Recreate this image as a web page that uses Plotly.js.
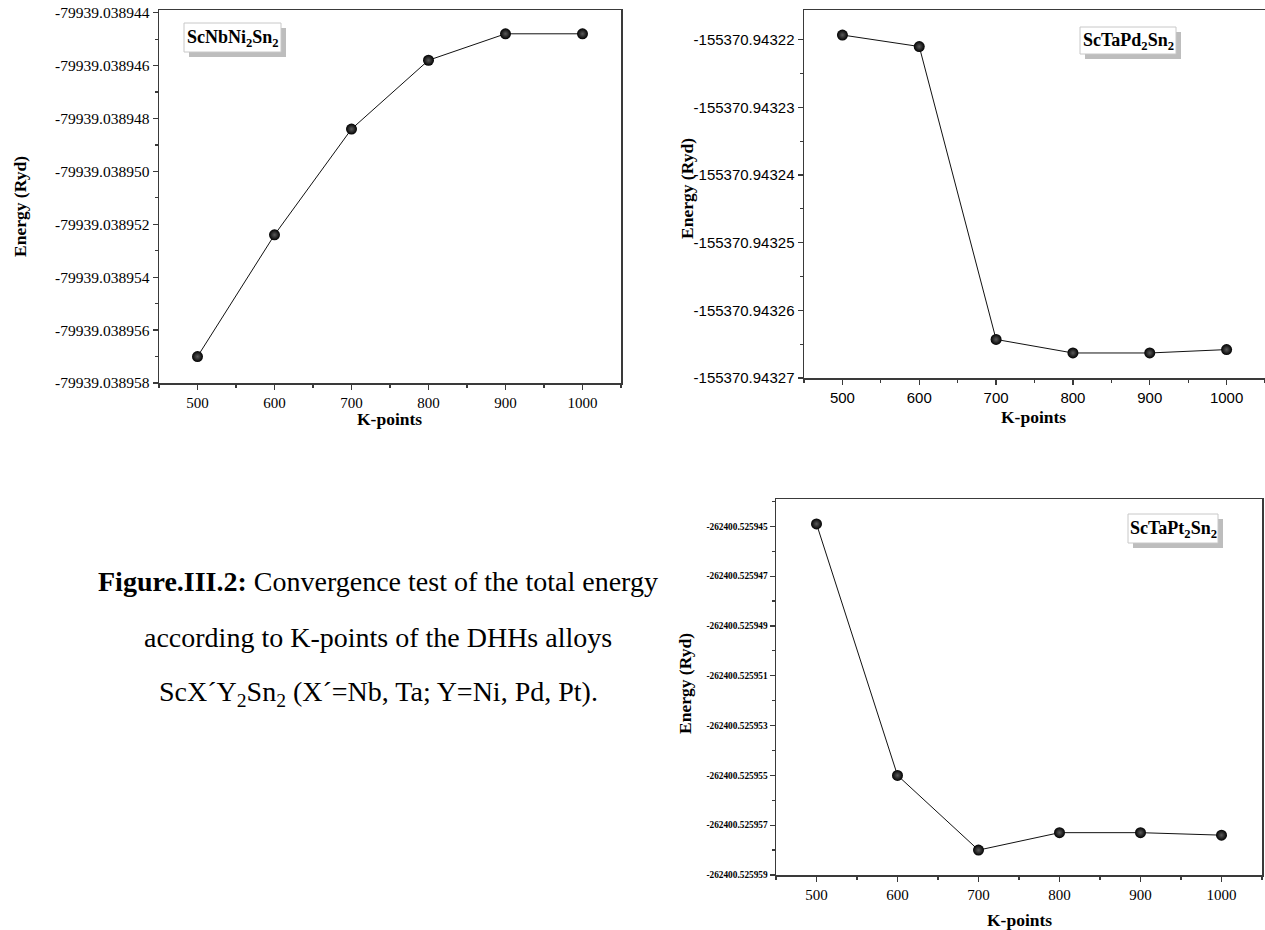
<!DOCTYPE html>
<html>
<head>
<meta charset="utf-8">
<script src="https://cdn.plot.ly/plotly-3.0.1.min.js"></script>
<style>html,body{margin:0;padding:0;background:#fff;}#chart{width:1265px;height:930px;}</style>
</head>
<body>
<div id="chart"></div>
<script>
// ---- data ----
const kPoints = [500, 600, 700, 800, 900, 1000];
const energyScNbNi2Sn2 = [-79939.0389570, -79939.0389524, -79939.0389484, -79939.0389458, -79939.0389448, -79939.0389448];
const energyScTaPd2Sn2 = [-155370.9432193, -155370.9432210, -155370.9432643, -155370.9432663, -155370.9432663, -155370.9432658];
const energyScTaPt2Sn2 = [-262400.5259449, -262400.5259550, -262400.5259580, -262400.5259573, -262400.5259573, -262400.5259574];
const xTicks = [500, 600, 700, 800, 900, 1000];
const yTicks1 = [-79939.038958, -79939.038956, -79939.038954, -79939.038952, -79939.038950, -79939.038948, -79939.038946, -79939.038944];
const yTicks2 = [-155370.94327, -155370.94326, -155370.94325, -155370.94324, -155370.94323, -155370.94322];
const yTicks3 = [-262400.525959, -262400.525957, -262400.525955, -262400.525953, -262400.525951, -262400.525949, -262400.525947, -262400.525945];
const labels = ['ScNbNi<sub>2</sub>Sn<sub>2</sub>', 'ScTaPd<sub>2</sub>Sn<sub>2</sub>', 'ScTaPt<sub>2</sub>Sn<sub>2</sub>'];
const xTitle = 'K-points';
const yTitle = 'Energy (Ryd)';
const captionLines = [
  '<b>Figure.III.2:</b> Convergence test of the total energy',
  'according to K-points of the DHHs alloys',
  'ScX´Y<sub>2</sub>Sn<sub>2</sub> (X´=Nb, Ta; Y=Ni, Pd, Pt).'
];

// ---- layout helpers ----
const W = 1265, H = 930;
const X = p => p / W;
const Y = p => 1 - p / H;
const SERIF = 'Liberation Serif, Times New Roman, serif';
const SANS = 'Liberation Sans, Arial, sans-serif';
const AX = '#3a3a3a';

function marker() {
  return {size: 11, color: '#000', gradient: {type: 'radial', color: '#5a5a5a'}, line: {width: 0}};
}
function trace(y, xa, ya) {
  return {x: kPoints, y: y, xaxis: xa, yaxis: ya, type: 'scatter', mode: 'lines+markers',
          line: {color: '#111', width: 1}, marker: marker(), showlegend: false, hoverinfo: 'x+y'};
}
const data = [
  trace(energyScNbNi2Sn2, 'x', 'y'),
  trace(energyScTaPd2Sn2, 'x2', 'y2'),
  trace(energyScTaPt2Sn2, 'x3', 'y3')
];

function xaxis(dom, anchor, font) {
  return {domain: dom, anchor: anchor, range: [450, 1050], tickmode: 'array', tickvals: xTicks,
          ticktext: xTicks.map(String), ticks: 'outside', ticklen: 5, tickwidth: 1.2, tickcolor: AX,
          minor: {dtick: 50, tick0: 450, ticks: 'outside', ticklen: 3, tickwidth: 1.2, tickcolor: AX},
          showline: true, linecolor: AX, linewidth: 1.5, mirror: true, showgrid: false, zeroline: false,
          tickfont: font, fixedrange: true};
}
function yaxis(dom, anchor, range, ticks, dec, minorDtick, font) {
  return {domain: dom, anchor: anchor, range: range, tickmode: 'array', tickvals: ticks,
          ticktext: ticks.map(v => v.toFixed(dec)), ticks: 'outside', ticklen: 5, tickwidth: 1.2, tickcolor: AX,
          minor: {dtick: minorDtick, tick0: ticks[0], ticks: 'outside', ticklen: 3, tickwidth: 1.2, tickcolor: AX},
          showline: true, linecolor: AX, linewidth: 1.5, mirror: true, showgrid: false, zeroline: false,
          tickfont: font, fixedrange: true};
}

const fSerifX = {family: SERIF, size: 15, color: '#000'};
const fSerifY = {family: SERIF, size: 15.5, color: '#000'};
const fSans = {family: SANS, size: 15, color: '#000'};
const fSerifBold9 = {family: SERIF, size: 9.3, color: '#000', weight: 'bold'};

const shapes = [];
const annotations = [];
function legendBox(x0, y0, x1, y1, text) {
  shapes.push({type: 'rect', xref: 'paper', yref: 'paper', x0: X(x0 + 5), x1: X(x1 + 5), y0: Y(y1 + 5), y1: Y(y0 + 5),
               fillcolor: '#bdbdbd', line: {width: 0}});
  shapes.push({type: 'rect', xref: 'paper', yref: 'paper', x0: X(x0), x1: X(x1), y0: Y(y1), y1: Y(y0),
               fillcolor: '#fff', line: {color: '#c8c8c8', width: 1}});
  annotations.push({xref: 'paper', yref: 'paper', x: X((x0 + x1) / 2), y: Y((y0 + y1) / 2 + 1), xanchor: 'center', yanchor: 'middle',
                    text: '<b>' + text + '</b>', showarrow: false, font: {family: SERIF, size: 18, color: '#000'}});
}
function title(x, y, text, angle) {
  annotations.push({xref: 'paper', yref: 'paper', x: X(x), y: Y(y), xanchor: 'center', yanchor: 'middle',
                    text: '<b>' + text + '</b>', textangle: angle, showarrow: false,
                    font: {family: SERIF, size: 17.5, color: '#000'}});
}

legendBox(184, 23, 281, 52, labels[0]);
legendBox(1080, 27, 1176, 54, labels[1]);
legendBox(1128, 514, 1218, 543, labels[2]);

title(389, 419, xTitle, 0);
title(20, 207, yTitle, -90);
title(1033, 417, xTitle, 0);
title(687, 189, yTitle, -90);
title(1019, 920, xTitle, 0);
title(685, 684, yTitle, -90);

const capY = [581, 637, 693];
captionLines.forEach((t, i) => {
  annotations.push({xref: 'paper', yref: 'paper', x: X(378), y: Y(capY[i]), xanchor: 'center', yanchor: 'middle',
                    text: t, showarrow: false, font: {family: SERIF, size: 28, color: '#000'}});
});

const layout = {
  width: W, height: H, margin: {l: 0, r: 0, t: 0, b: 0},
  paper_bgcolor: '#fff', plot_bgcolor: '#fff', showlegend: false,
  xaxis: xaxis([X(159), X(621)], 'y', fSerifX),
  yaxis: yaxis([Y(383), Y(10)], 'x', [-79939.038958, -79939.0389439], yTicks1, 6, 1e-6, fSerifY),
  xaxis2: xaxis([X(804), 1], 'y2', fSans),
  yaxis2: yaxis([Y(378), Y(10)], 'x2', [-155370.94327, -155370.9432156], yTicks2, 5, 0.5e-5, fSans),
  xaxis3: xaxis([X(776), X(1262)], 'y3', fSerifX),
  yaxis3: yaxis([Y(875), Y(499)], 'x3', [-262400.525959, -262400.5259439], yTicks3, 6, 1e-6, fSerifBold9),
  shapes: shapes, annotations: annotations
};

Plotly.newPlot('chart', data, layout, {displayModeBar: false, staticPlot: true});
</script>
</body>
</html>
